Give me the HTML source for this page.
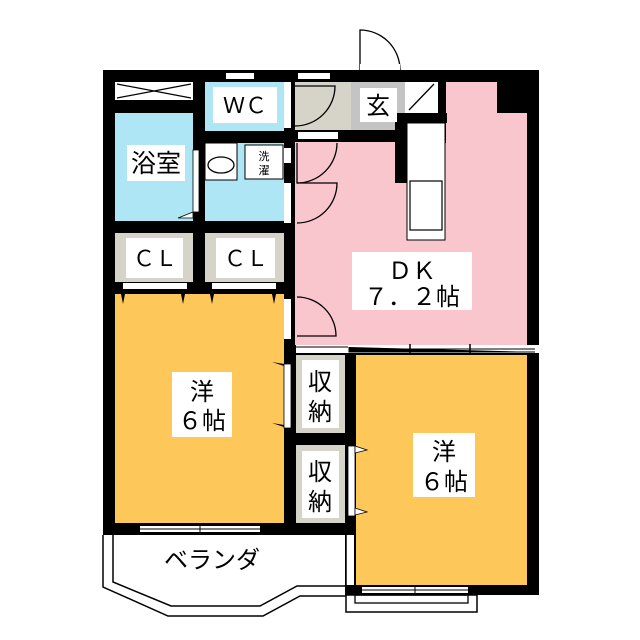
<!DOCTYPE html>
<html><head><meta charset="utf-8"><style>
body{margin:0;background:#fff}
svg{display:block}
text{font-family:"Liberation Sans","Noto Sans CJK JP",sans-serif;fill:#000}
</style></head><body>
<svg width="640" height="640" viewBox="0 0 640 640" xmlns="http://www.w3.org/2000/svg">
<rect x="103" y="70" width="436" height="465" fill="#000"/>
<rect x="345" y="340" width="194" height="255" fill="#000"/>
<rect x="115" y="82" width="78" height="18" fill="#fff"/>
<path d="M117 84 L191 98 M117 98 L191 84" stroke="#000" stroke-width="1.2"/>
<rect x="115" y="113" width="78" height="108" fill="#aee6f5"/>
<rect x="193" y="150" width="6" height="62" fill="#fff" stroke="#000" stroke-width="0.8"/>
<path d="M193 212 L178 218 L193 218 Z" fill="#fff" stroke="#000" stroke-width="0.8"/>
<rect x="205" y="82" width="79" height="49" fill="#aee6f5"/>
<rect x="205" y="143" width="79" height="78" fill="#aee6f5"/>
<rect x="205" y="143" width="32" height="37" fill="#fff" stroke="#000" stroke-width="1"/>
<ellipse cx="221" cy="165" rx="13" ry="8" fill="#fff" stroke="#000" stroke-width="1.3"/>
<rect x="245" y="145" width="38" height="34" fill="#fff" stroke="#000" stroke-width="1"/>
<rect x="295" y="82" width="56" height="48" fill="#d6d3c8"/>
<rect x="351" y="82" width="54" height="48" fill="#c4c4c4"/>
<rect x="405" y="82" width="33" height="31" fill="#fff"/>
<path d="M409 110 L434 84" stroke="#000" stroke-width="1.3"/>
<rect x="295" y="143" width="232" height="202" fill="#f8c6cc"/>
<rect x="446" y="82" width="51" height="70" fill="#f8c6cc"/>
<rect x="497" y="113" width="30" height="40" fill="#f8c6cc"/>
<rect x="295" y="142" width="100" height="5" fill="#f8c6cc"/>
<rect x="395" y="113" width="12" height="70" fill="#000"/>
<rect x="405" y="113" width="42" height="10" fill="#000"/>
<rect x="407" y="123" width="38" height="117" fill="#fff" stroke="#000" stroke-width="1"/>
<rect x="410" y="181" width="32" height="49" fill="#fff" stroke="#000" stroke-width="1.2"/>
<rect x="115" y="233" width="78" height="49" fill="#d6d3c8"/>
<rect x="205" y="233" width="79" height="49" fill="#d6d3c8"/>
<rect x="123" y="283" width="64" height="6" fill="#fff"/>
<rect x="212" y="283" width="64" height="6" fill="#fff"/>
<rect x="115" y="294" width="169" height="229" fill="#fdc75a"/>
<path d="M125 294 l-2 10 l-2 -10 Z M185 294 l-2 10 l-2 -10Z M214 294 l-2 10 l-2 -10Z M276 294 l-2 10 l-2 -10Z" fill="#000"/>
<rect x="284" y="82" width="7" height="46" fill="#fff"/>
<rect x="284" y="148" width="7" height="15" fill="#fff"/>
<rect x="284" y="183" width="7" height="40" fill="#fff"/>
<rect x="284" y="299" width="7" height="40" fill="#fff"/>
<rect x="284" y="364" width="7" height="64" fill="#fff" stroke="#000" stroke-width="0.8"/>
<path d="M284 364 l-12 -2 l12 4Z M284 425 l-12 -2 l12 4Z" fill="#000"/>
<g fill="none" stroke="#000" stroke-width="1.3">
<path d="M295 86 h40 a40 40 0 0 1 -40 40"/>
<path d="M297 143 v40 a40 40 0 0 0 40 -40"/>
<path d="M297 183 h40 a40 40 0 0 1 -40 40"/>
<path d="M297 297 h0 a39 39 0 0 1 39 39 h-39"/>
<path d="M360 70 v-40 a40 40 0 0 1 40 40"/>
<path d="M348 540 a40 40 0 0 0 37 45"/>
</g>
<rect x="298" y="132" width="40" height="7" fill="#fff"/>
<rect x="360" y="64" width="40" height="6" fill="#fff"/>
<rect x="226" y="73" width="28" height="6" fill="#fff"/>
<rect x="298" y="73" width="32" height="6" fill="#fff"/>
<rect x="296" y="355" width="49" height="78" fill="#d6d3c8"/>
<rect x="296" y="445" width="49" height="78" fill="#d6d3c8"/>
<rect x="356" y="355" width="171" height="230" fill="#fdc75a"/>
<rect x="348" y="446" width="7" height="70" fill="#fff" stroke="#000" stroke-width="0.8"/>
<path d="M355 446 l12 4 l-12 3Z M355 508 l12 4 l-12 3Z" fill="#fff" stroke="#000" stroke-width="0.8"/>
<rect x="296" y="345" width="243" height="8" fill="#fff"/>
<path d="M296 347 H348 M349 347 V352 H535 M349 349 H535" stroke="#000" stroke-width="1"/>
<path d="M410 344 v10 M470 344 v10" stroke="#000" stroke-width="1.5"/>
<rect x="140" y="526" width="120" height="6" fill="#fff"/>
<path d="M140 529 H260 M200 524 v10" stroke="#000" stroke-width="1"/>
<rect x="362" y="587" width="106" height="6" fill="#fff"/>
<path d="M362 590 H468 M415 585 v10" stroke="#000" stroke-width="1"/>
<rect x="346" y="595" width="131" height="17" fill="#fff" stroke="#000" stroke-width="1.5"/>
<rect x="355" y="595" width="113" height="8" fill="none" stroke="#000" stroke-width="1.3"/>
<path d="M103 535 V587 L168 616 H263 L300 596 H346" fill="none" stroke="#000" stroke-width="1.5"/>
<path d="M113 535 V582 L171 606 H260 L297 586 H346" fill="none" stroke="#000" stroke-width="1.5"/>
<rect x="346" y="535" width="8" height="50" fill="#fff"/>
<path d="M346 535 V595" stroke="#000" stroke-width="1.5"/>
<g font-size="24">
<rect x="127" y="145" width="58" height="36" fill="#fff"/>
<text x="156" y="172" text-anchor="middle" font-size="25">浴室</text>
<rect x="213" y="87" width="64" height="36" fill="#fff"/>
<text x="245" y="113" text-anchor="middle" font-size="22">ＷＣ</text>
<rect x="360" y="88" width="37" height="34" fill="#fff"/>
<text x="378" y="114" text-anchor="middle">玄</text>
<rect x="126" y="238" width="57" height="40" fill="#fff"/>
<text x="155" y="266" text-anchor="middle" font-size="22">ＣＬ</text>
<rect x="216" y="238" width="59" height="40" fill="#fff"/>
<text x="246" y="266" text-anchor="middle" font-size="22">ＣＬ</text>
<rect x="352" y="252" width="120" height="58" fill="#fff"/>
<text x="412" y="279" text-anchor="middle">ＤＫ</text>
<text x="412" y="305" text-anchor="middle">７．２帖</text>
<rect x="172" y="372" width="60" height="65" fill="#fff"/>
<text x="202" y="400" text-anchor="middle">洋</text>
<text x="202" y="429" text-anchor="middle">６帖</text>
<rect x="413" y="433" width="62" height="64" fill="#fff"/>
<text x="444" y="460" text-anchor="middle">洋</text>
<text x="444" y="490" text-anchor="middle">６帖</text>
<rect x="302" y="360" width="37" height="68" fill="#fff"/>
<text x="320" y="390" text-anchor="middle">収</text>
<text x="320" y="420" text-anchor="middle">納</text>
<rect x="302" y="451" width="37" height="67" fill="#fff"/>
<text x="320" y="480" text-anchor="middle">収</text>
<text x="320" y="510" text-anchor="middle">納</text>
<text x="212" y="568" text-anchor="middle">ベランダ</text>
</g>
<text x="264" y="160" text-anchor="middle" font-size="11">洗</text>
<text x="264" y="174" text-anchor="middle" font-size="11">濯</text>
</svg>
</body></html>
